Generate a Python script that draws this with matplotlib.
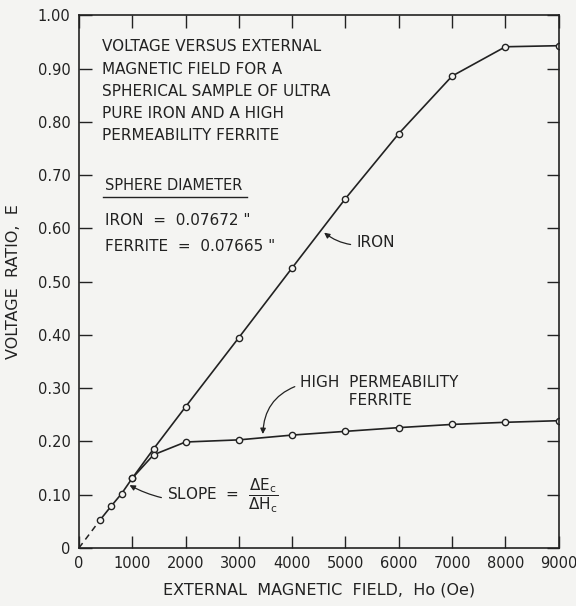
import numpy as np
import matplotlib.pyplot as plt

# data
iron_h = [400, 600, 800, 1000, 1400, 2000, 3000, 4000, 5000, 6000, 7000, 8000, 9000]
iron_e = [0.053, 0.078, 0.102, 0.131, 0.186, 0.265, 0.395, 0.526, 0.656, 0.778, 0.886, 0.941, 0.943]
ferrite_h = [1000, 1400, 2000, 3000, 4000, 5000, 6000, 7000, 8000, 9000]
ferrite_e = [0.131, 0.175, 0.199, 0.203, 0.212, 0.219, 0.226, 0.232, 0.236, 0.239]
x_ticks = [0, 1000, 2000, 3000, 4000, 5000, 6000, 7000, 8000, 9000]
y_ticks = [0, 0.1, 0.2, 0.3, 0.4, 0.5, 0.6, 0.7, 0.8, 0.9, 1.0]
y_tick_labels = ['0', '0.10', '0.20', '0.30', '0.40', '0.50', '0.60', '0.70', '0.80', '0.90', '1.00']

plt.rcParams['font.family'] = ['DejaVu Sans']
fig = plt.figure(figsize=(5.76, 6.06), dpi=100)
fig.patch.set_facecolor('#f4f4f2')
ax = fig.add_axes([0.137, 0.0957, 0.833, 0.879])
ax.set_facecolor('#f4f4f2')

# dashed extrapolation to origin
ax.plot([0, iron_h[0]], [0, iron_e[0]], color='#222222', lw=1.1, ls=(0, (4, 3)))
ax.plot(iron_h, iron_e, color='#222222', lw=1.2, marker='o', ms=4.5,
        mfc='#f4f4f2', mec='#222222', mew=1.0)
ax.plot(ferrite_h, ferrite_e, color='#222222', lw=1.2, marker='o', ms=4.5,
        mfc='#f4f4f2', mec='#222222', mew=1.0)

ax.set_xlim(0, 9000)
ax.set_ylim(0, 1.0)
ax.set_xticks(x_ticks)
ax.set_xticklabels([str(t) for t in x_ticks])
ax.set_yticks(y_ticks)
ax.set_yticklabels(y_tick_labels)
ax.tick_params(direction='in', length=9, width=1, top=True, right=True,
               labelsize=10.5, colors='#222222', pad=6)
for s in ax.spines.values():
    s.set_linewidth(1.2)
    s.set_color('#222222')

ax.set_xlabel('EXTERNAL  MAGNETIC  FIELD,  Ho (Oe)', fontsize=11.5, labelpad=8, color='#222222')
ax.set_ylabel('VOLTAGE  RATIO,  E', fontsize=11.5, labelpad=12, color='#222222')

tc = '#222222'
fs = 11
ax.text(0.048, 0.955, 'VOLTAGE VERSUS EXTERNAL\nMAGNETIC FIELD FOR A\nSPHERICAL SAMPLE OF ULTRA\n'
        'PURE IRON AND A HIGH\nPERMEABILITY FERRITE', transform=ax.transAxes,
        fontsize=fs, va='top', ha='left', linespacing=1.6, color=tc)
ax.text(0.055, 0.672, 'SPHERE DIAMETER', transform=ax.transAxes, fontsize=10.5, color=tc)
ax.plot([0.05, 0.35], [0.659, 0.659], transform=ax.transAxes, color=tc, lw=1)
ax.text(0.055, 0.607, 'IRON  =  0.07672 "', transform=ax.transAxes, fontsize=fs, color=tc)
ax.text(0.055, 0.558, 'FERRITE  =  0.07665 "', transform=ax.transAxes, fontsize=fs, color=tc)

ax.annotate('IRON', xy=(4600, 0.592), xytext=(5200, 0.573), fontsize=fs, color=tc,
            va='center', ha='left',
            arrowprops=dict(arrowstyle='-|>', color=tc, lw=0.9, mutation_scale=8,
                            connectionstyle='arc3,rad=-0.25', shrinkA=2, shrinkB=0))
ax.annotate('HIGH  PERMEABILITY\n          FERRITE', xy=(3450, 0.214), xytext=(4150, 0.293),
            fontsize=fs, color=tc, va='center', ha='left', linespacing=1.25,
            arrowprops=dict(arrowstyle='-|>', color=tc, lw=0.9, mutation_scale=8,
                            connectionstyle='arc3,rad=0.35', shrinkA=2, shrinkB=0,
                            relpos=(0, 0.72)))
ax.annotate(r'SLOPE  =  $\dfrac{\Delta \mathrm{E_c}}{\Delta \mathrm{H_c}}$', xy=(950, 0.118),
            xytext=(1650, 0.097), fontsize=fs, color=tc, va='center', ha='left',
            arrowprops=dict(arrowstyle='-|>', color=tc, lw=0.9, mutation_scale=8,
                            connectionstyle='arc3,rad=-0.2', shrinkA=2, shrinkB=0))

fig.savefig('out.png', dpi=100, facecolor=fig.get_facecolor())
